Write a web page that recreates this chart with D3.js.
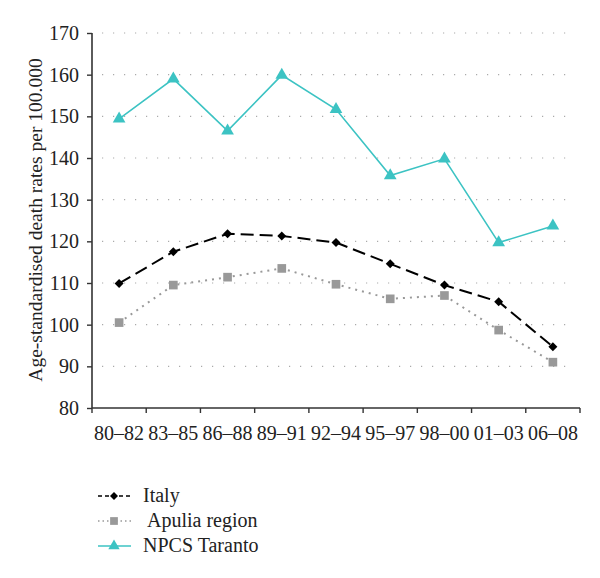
<!DOCTYPE html>
<html><head><meta charset="utf-8">
<script src="https://cdn.jsdelivr.net/npm/d3@7"></script>
<style>body{margin:0;background:#fff}svg{display:block}text{font-family:"Liberation Serif","DejaVu Serif",serif;fill:#222}</style>
</head><body><svg id="c" width="600" height="578"></svg>
<script>
const categories = ["80–82","83–85","86–88","89–91","92–94","95–97","98–00","01–03","06–08"];
const italy = [109.9,117.5,121.8,121.3,119.7,114.6,109.5,105.5,94.7];
const apulia = [100.5,109.5,111.4,113.5,109.7,106.2,107.0,98.7,91.0];
const taranto = [149.4,159.0,146.5,159.9,151.7,135.8,139.8,119.7,123.7];
const yTicks = [80,90,100,110,120,130,140,150,160,170];
const seriesNames = ["Italy","Apulia region","NPCS Taranto"];

const svg = d3.select("#c");
const x = d3.scaleBand().domain(categories).range([92,580]);
const y = d3.scaleLinear().domain([80,170]).range([408,33]);
const cx = d => x(d) + x.bandwidth()/2;

// grid
svg.append("g").selectAll("line").data(yTicks.filter(v=>v>80)).join("line")
  .attr("x1",102).attr("x2",572).attr("y1",d=>y(d)).attr("y2",d=>y(d))
  .attr("stroke","#aaa").attr("stroke-width",1.2).attr("stroke-dasharray","1.2,9.8");

// y axis
const ya = svg.append("g").attr("transform","translate(92,0)")
  .call(d3.axisLeft(y).tickValues(yTicks).tickSize(5).tickPadding(8));
ya.select(".domain").attr("stroke","#333").attr("stroke-width",1.6).attr("d","M0,33V408");
ya.selectAll(".tick line").attr("stroke","#333").attr("stroke-width",1.4);
ya.selectAll("text").attr("font-size",20).attr("font-family","Liberation Serif").attr("fill","#222");

// x axis
const xa = svg.append("g").attr("transform","translate(0,408)")
  .call(d3.axisBottom(x).tickSize(0).tickPadding(18));
xa.select(".domain").attr("stroke","#333").attr("stroke-width",1.6).attr("d","M92,0H580");
xa.selectAll("text").attr("font-size",20).attr("font-family","Liberation Serif").attr("fill","#222");
svg.append("g").selectAll("line").data(categories.concat(["end"])).join("line")
  .attr("x1",(d,i)=>92+i*x.bandwidth()).attr("x2",(d,i)=>92+i*x.bandwidth())
  .attr("y1",408).attr("y2",413).attr("stroke","#333").attr("stroke-width",1.4);

// y title
svg.append("text").attr("transform","translate(42,220) rotate(-90)")
  .attr("text-anchor","middle").attr("font-size",19.5).text("Age-standardised death rates per 100.000");

const line = d3.line().x((d,i)=>cx(categories[i])).y(d=>y(d));
const styles = [
  {data:italy,color:"#000",dash:"13,6",w:2,sym:d3.symbolSquare,size:40,rot:45},
  {data:apulia,color:"#999",dash:"2,5",w:2,sym:d3.symbolSquare,size:75,rot:0},
  {data:taranto,color:"#3cc3c3",dash:null,w:1.6,sym:d3.symbolTriangle,size:70,rot:0}
];
const drawOrder=[2,1,0];
drawOrder.forEach(k=>{
  const s=styles[k];
  svg.append("path").datum(s.data).attr("d",line).attr("fill","none")
    .attr("stroke",s.color).attr("stroke-width",s.w).attr("stroke-dasharray",s.dash);
  svg.append("g").selectAll("path").data(s.data).join("path")
    .attr("d",d3.symbol().type(s.sym).size(s.size))
    .attr("transform",(d,i)=>`translate(${cx(categories[i])},${y(d)}) rotate(${s.rot})`)
    .attr("fill",s.color);
});

// legend
const ly=[496,521,546];
styles.forEach((s,i)=>{
  const g=svg.append("g");
  g.append("line").attr("x1",98).attr("x2",131).attr("y1",ly[i]).attr("y2",ly[i])
    .attr("stroke",s.color).attr("stroke-width",s.w-0.3).attr("stroke-dasharray",i==0?"4,3":(i==1?"1.5,3":null));
  g.append("path").attr("d",d3.symbol().type(s.sym).size(s.size*0.8)).attr("transform",`translate(114,${ly[i]}) rotate(${s.rot})`).attr("fill",s.color);
  g.append("text").attr("x",i==1?147:143).attr("y",ly[i]+6).attr("font-size",20).text(seriesNames[i]);
});
</script></body></html>
